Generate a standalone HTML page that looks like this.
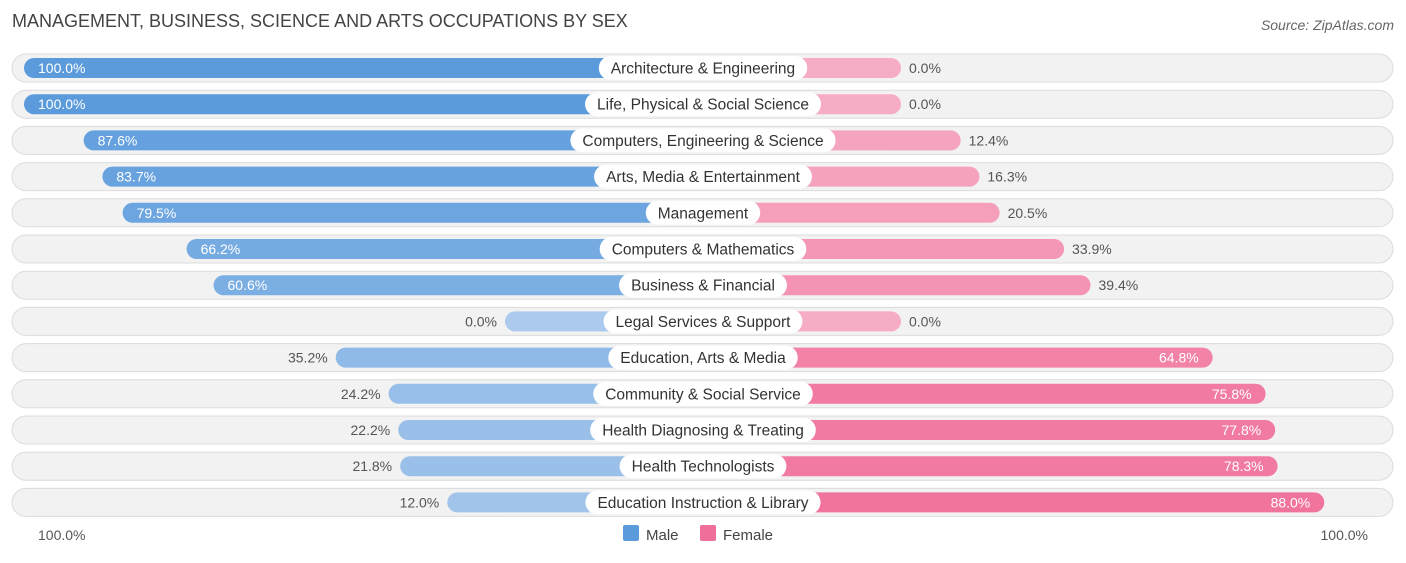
<!DOCTYPE html>
<html><head><meta charset="utf-8">
<style>
body{margin:0;background:#fff;font-family:"Liberation Sans",sans-serif;}
svg text{font-family:"Liberation Sans",sans-serif;}
</style></head>
<body>
<svg id="c" width="1406" height="558" xmlns="http://www.w3.org/2000/svg">
<text x="12" y="27" font-size="18" fill="#444">MANAGEMENT, BUSINESS, SCIENCE AND ARTS OCCUPATIONS BY SEX</text>
<text x="1394" y="30" font-size="14" fill="#666" font-style="italic" text-anchor="end">Source: ZipAtlas.com</text>
<g id="rows"></g>
<text x="38" y="540" font-size="14" fill="#555">100.0%</text>
<text x="1368" y="540" font-size="14" fill="#555" text-anchor="end">100.0%</text>
<g><rect x="623" y="525" width="16" height="16" rx="2" fill="#5b9bdc"/><text x="646" y="540" font-size="15" fill="#444">Male</text></g>
<g><rect x="700" y="525" width="16" height="16" rx="2" fill="#f06f9a"/><text x="723" y="540" font-size="15" fill="#444">Female</text></g>
</svg>
<script>
const categories=["Architecture & Engineering","Life, Physical & Social Science","Computers, Engineering & Science","Arts, Media & Entertainment","Management","Computers & Mathematics","Business & Financial","Legal Services & Support","Education, Arts & Media","Community & Social Service","Health Diagnosing & Treating","Health Technologists","Education Instruction & Library"];
const maleValues=[100,100,87.6,83.7,79.5,66.2,60.6,0,35.2,24.2,22.2,21.8,12.0];
const femaleValues=[0,0,12.4,16.3,20.5,33.9,39.4,0,64.8,75.8,77.8,78.3,88.0];
const NS="http://www.w3.org/2000/svg";
const g=document.getElementById('rows');
const cx=703,minW=198,scale=481;
function w(v){return minW+v/100*scale;}
function mix(a,b,t){return 'rgb('+a.map((x,i)=>Math.round(x+(b[i]-x)*t)).join(',')+')';}
function el(tag,attrs,parent){const e=document.createElementNS(NS,tag);for(const k in attrs)e.setAttribute(k,attrs[k]);parent.appendChild(e);return e;}
categories.forEach((cat,i)=>{
  const y=68+i*36.2;
  const row=el('g',{},g);
  
  
  const bg=el('rect',{x:12,y:y-14,width:1381,height:28,rx:14,fill:'#f2f2f2',stroke:'#dcdcdc','stroke-width':1},row);
  
  
  const mv=maleValues[i],fv=femaleValues[i];
  const mw=w(mv),fw=w(fv);
  const mb=el('rect',{x:cx-mw,y:y-10,width:mw,height:20,rx:10,fill:mix([172,202,237],[91,155,220],mv/100)},row);
  
  
  const fb=el('rect',{x:cx,y:y-10,width:fw,height:20,rx:10,fill:mix([246,172,196],[240,108,152],fv/100)},row);
  
  
  const mIn=mv>50;
  const mt=el('text',{x:mIn?cx-mw+14:cx-mw-8,y:y+5,'font-size':14,fill:mIn?'#fff':'#555','text-anchor':mIn?'start':'end'},row);
  mt.textContent=mv.toFixed(1)+'%';
  
  
  const fIn=fv>50;
  const ft=el('text',{x:fIn?cx+fw-14:cx+fw+8,y:y+5,'font-size':14,fill:fIn?'#fff':'#555','text-anchor':fIn?'end':'start'},row);
  ft.textContent=fv.toFixed(1)+'%';
  
  
  const lt=el('text',{x:cx,y:y+5.5,'font-size':15.5,fill:'#333','text-anchor':'middle'},row);
  lt.textContent=cat;
  const tw=lt.getComputedTextLength();
  const lb=el('rect',{x:cx-tw/2-12,y:y-12,width:tw+24,height:24,rx:12,fill:'#fff'},row);
  row.insertBefore(lb,lt);
  
  
  
  
});
</script>
</body></html>
